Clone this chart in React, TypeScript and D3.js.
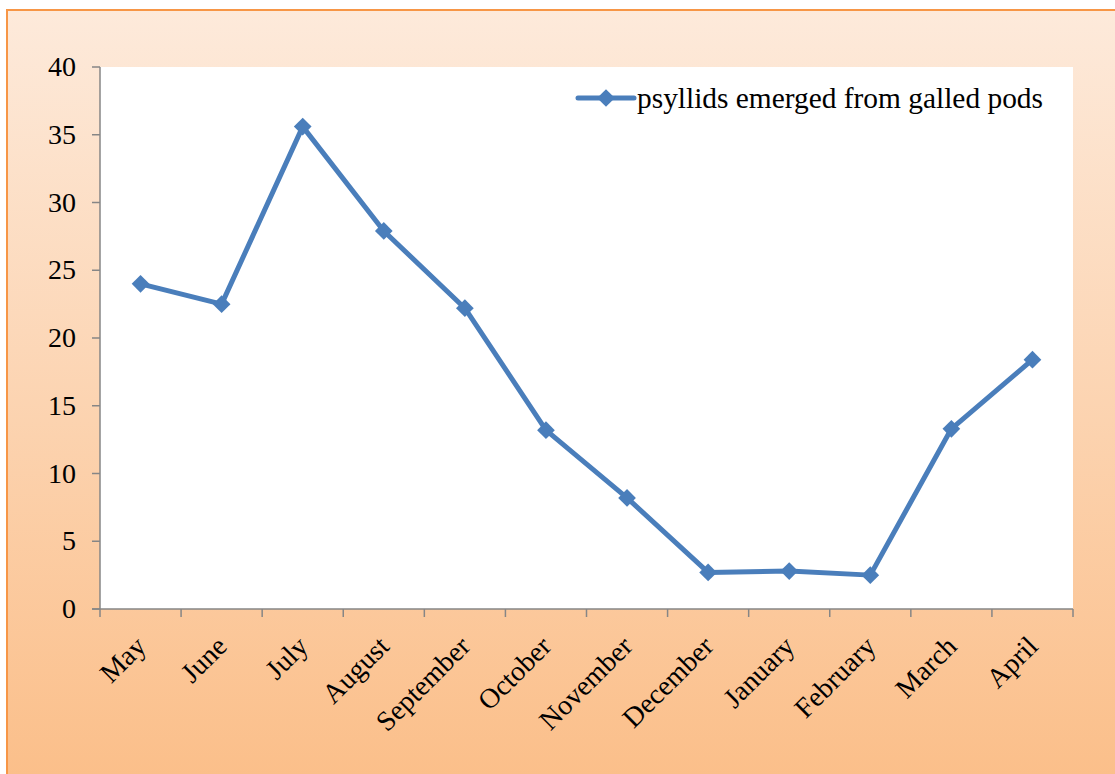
import React from "react";
import * as d3 from "d3";

const months = [
  "May", "June", "July", "August", "September", "October",
  "November", "December", "January", "February", "March", "April",
];
const psyllids = [24, 22.5, 35.6, 27.9, 22.2, 13.2, 8.2, 2.7, 2.8, 2.5, 13.3, 18.4];
const yTicks = [0, 5, 10, 15, 20, 25, 30, 35, 40];
const seriesName = "psyllids emerged from galled pods";

const W = 1115;
const H = 774;
const plot = { left: 100, top: 67, right: 1073, bottom: 609 };
const blue = "#4A7EBB";
const axisGray = "#868686";
const font = "'Liberation Serif', 'Times New Roman', serif";

export default function App() {
  const x = d3.scaleBand().domain(months).range([plot.left, plot.right]);
  const y = d3.scaleLinear().domain([0, 40]).range([plot.bottom, plot.top]);
  const cx = (m: string) => (x(m) ?? 0) + x.bandwidth() / 2;

  const line = d3
    .line<number>()
    .x((_, i) => cx(months[i]))
    .y((d) => y(d));

  const diamond = d3.symbol().type(d3.symbolDiamond2).size(200)() ?? "";

  const boundaries = months.map((m) => x(m) ?? 0).concat([plot.right]);

  return (
    <svg
      width={W}
      height={H}
      style={{ position: "absolute", left: 0, top: 0 }}
    >
      <defs>
        <linearGradient id="bg" x1="0" y1="0" x2="0" y2="1">
          <stop offset="0" stopColor="#FDEADB" />
          <stop offset="1" stopColor="#FBBE88" />
        </linearGradient>
      </defs>
      <rect x={7} y={10} width={W + 10} height={H + 10} fill="url(#bg)" stroke="#F79646" strokeWidth={2} />
      <rect
        x={plot.left}
        y={plot.top}
        width={plot.right - plot.left}
        height={plot.bottom - plot.top}
        fill="#FFFFFF"
      />

      {/* y axis */}
      <line x1={plot.left} x2={plot.left} y1={plot.top} y2={plot.bottom} stroke={axisGray} strokeWidth={1.5} />
      {yTicks.map((t) => (
        <g key={t}>
          <line x1={plot.left - 8} x2={plot.left} y1={y(t)} y2={y(t)} stroke={axisGray} strokeWidth={1.5} />
          <text
            x={76}
            y={y(t)}
            dy="0.33em"
            textAnchor="end"
            fontFamily={font}
            fontSize={28}
            fill="#000"
          >
            {t}
          </text>
        </g>
      ))}

      {/* x axis */}
      <line x1={plot.left - 8} x2={plot.right} y1={plot.bottom} y2={plot.bottom} stroke={axisGray} strokeWidth={1.5} />
      {boundaries.map((b, i) => (
        <line key={i} x1={b} x2={b} y1={plot.bottom} y2={plot.bottom + 8} stroke={axisGray} strokeWidth={1.5} />
      ))}
      {months.map((m) => (
        <text
          key={m}
          transform={`translate(${cx(m) + 7},${plot.bottom + 39}) rotate(-45)`}
          textAnchor="end"
          fontFamily={font}
          fontSize={28}
          fill="#000"
        >
          {m}
        </text>
      ))}

      {/* series */}
      <path d={line(psyllids) ?? ""} fill="none" stroke={blue} strokeWidth={5} strokeLinejoin="round" />
      {psyllids.map((v, i) => (
        <path key={i} d={diamond} transform={`translate(${cx(months[i])},${y(v)})`} fill={blue} />
      ))}

      {/* legend */}
      <line x1={578} x2={634} y1={98} y2={98} stroke={blue} strokeWidth={5} strokeLinecap="round" />
      <path d={diamond} transform="translate(606,98)" fill={blue} />
      <text x={637} y={98} dy="0.33em" fontFamily={font} fontSize={29.4} fill="#000">
        {seriesName}
      </text>
    </svg>
  );
}
